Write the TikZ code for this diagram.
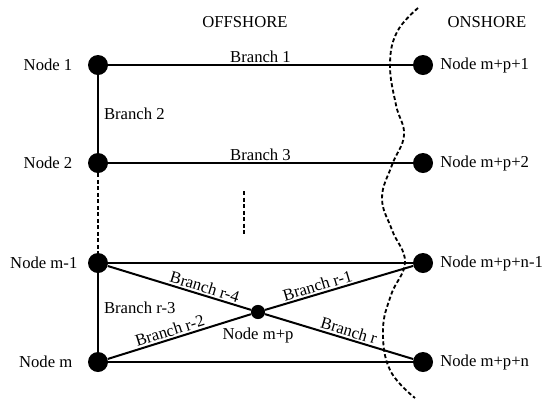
\documentclass[tikz,border=0pt]{standalone}
\usepackage{fontspec}
\setmainfont{Liberation Serif}
\begin{document}
\begin{tikzpicture}[x=0.6pt,y=-0.6pt,
  bus/.style={circle,fill=black,inner sep=0pt,minimum size=12pt},
  hub/.style={circle,fill=black,inner sep=0pt,minimum size=8.5pt},
  br/.style={line width=1.2pt},
  dots/.style={line width=1.1pt,dash pattern=on 2.4pt off 1.5pt},
  lbl/.style={font=\fontsize{10}{12}\selectfont,inner sep=1pt}]
\useasboundingbox (0,0) rectangle (550,400);
\node[lbl] (off) at (245,22) {OFFSHORE};
\node[lbl] (on) at (487,22) {ONSHORE};
% offshore buses
\node[bus,label={[lbl,label distance=8pt]left:Node 1}] (n1) at (98,65) {};
\node[bus,label={[lbl,label distance=8pt]left:Node 2}] (n2) at (98,163) {};
\node[bus,label={[lbl,label distance=5pt]left:Node m-1}] (nm1) at (98,263) {};
\node[bus,label={[lbl,label distance=8pt]left:Node m}] (nm) at (98,362) {};
\node[hub,label={[lbl,label distance=4pt]below:Node m+p}] (nc) at (258,312) {};
% onshore buses
\node[bus,label={[lbl,label distance=3pt]right:Node m+p+1}] (r1) at (423,65) {};
\node[bus,label={[lbl,label distance=3pt]right:Node m+p+2}] (r2) at (423,163) {};
\node[bus,label={[lbl,label distance=3pt]right:Node m+p+n-1}] (rm1) at (423,263) {};
\node[bus,label={[lbl,label distance=3pt]right:Node m+p+n}] (rm) at (423,362) {};
% branches
\draw[br] (n1) -- node[lbl,above]{Branch 1} (r1);
\draw[br] (n1) -- node[lbl,right,xshift=2pt]{Branch 2} (n2);
\draw[br] (n2) -- node[lbl,above]{Branch 3} (r2);
\draw[br] (nm1) -- (rm1);
\draw[br] (nm1) -- node[lbl,right,xshift=2pt,yshift=3pt]{Branch r-3} (nm);
\draw[br] (nm) -- (rm);
\draw[br] (nm1) -- node[lbl,above,sloped,pos=0.66]{Branch r-4} (nc);
\draw[br] (nm) -- node[lbl,above,sloped,pos=0.45]{Branch r-2} (nc);
\draw[br] (nc) -- node[lbl,above,sloped,pos=0.37]{Branch r-1} (rm1);
\draw[br] (nc) -- node[lbl,above,sloped,pos=0.55]{Branch r} (rm);
% continuation dots
\draw[dots] (n2) -- (nm1);
\coordinate (ga) at (244,191);
\coordinate (gb) at (244,234);
\draw[dots] (ga) -- (gb);
% shore line
\draw[dots] plot[smooth,tension=0.7] coordinates {(418,8) (397,32) (390,65) (396,105) (404,135) (392,165) (382,198) (392,230) (405,262) (391,295) (383,330) (390,370) (415,398)};
\end{tikzpicture}
\end{document}
